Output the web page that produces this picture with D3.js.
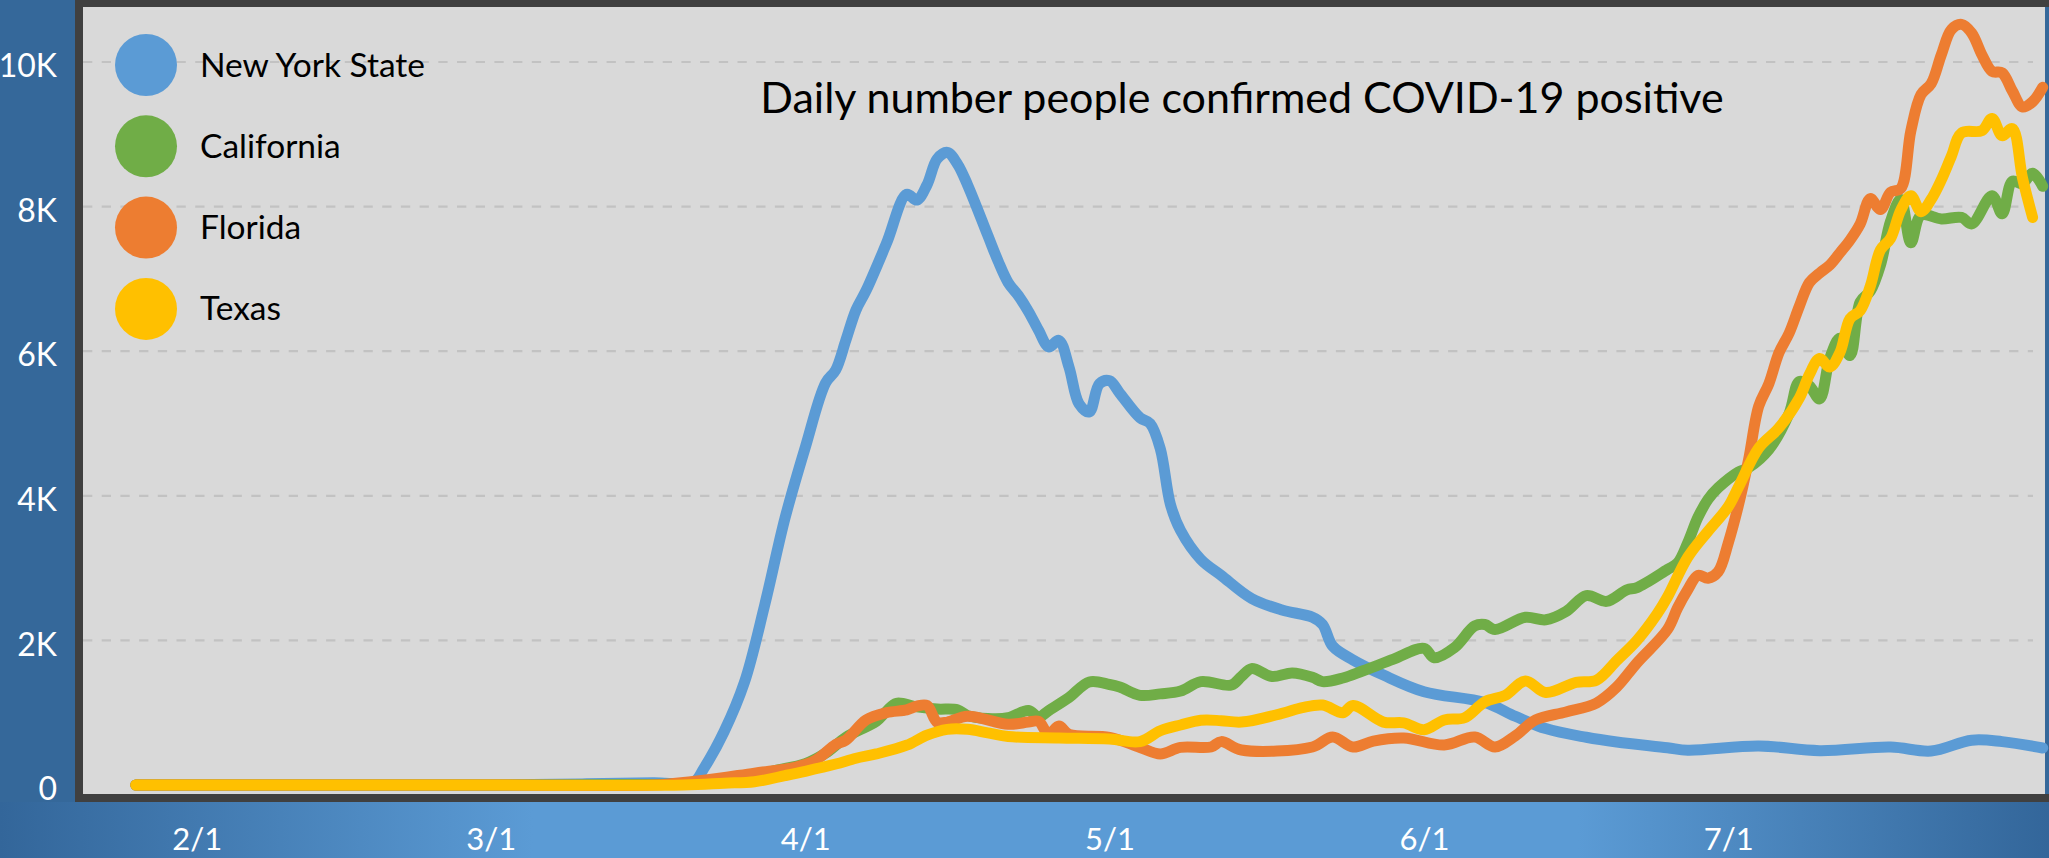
<!DOCTYPE html>
<html>
<head>
<meta charset="utf-8">
<script src="https://cdn.jsdelivr.net/npm/d3@7"></script>
<style>
  html, body { margin: 0; padding: 0; background: #35689A; }
  svg { display: block; }
  text { font-family: Lato, "Open Sans", sans-serif; }
</style>
</head>
<body>
<svg id="chart" width="2049" height="858"></svg>
<script>
// ---------------- DATA ----------------
const chartTitle = "Daily number people confirmed COVID-19 positive";
const seriesNames = ["New York State", "California", "Florida", "Texas"];
const seriesColors = ["#5B9BD5", "#70AD47", "#ED7D31", "#FFC000"];
const monthTicks = ["2/1", "3/1", "4/1", "5/1", "6/1", "7/1"];
const yTicks = [0, 2000, 4000, 6000, 8000, 10000];

const nyDates = ["1/26","2/15","3/1","3/10","3/17","3/21","3/22","3/24","3/26","3/28","3/30","4/1","4/3","4/4","4/5","4/6","4/7","4/9","4/11","4/12","4/13","4/14","4/15","4/16","4/17","4/19","4/20","4/21","4/22","4/23","4/24","4/25","4/26","4/27","4/28","4/29","4/30","5/1","5/2","5/4","5/5","5/6","5/7","5/8","5/10","5/12","5/15","5/18","5/21","5/22","5/23","5/25","5/28","6/1","6/7","6/10","6/13","6/17","6/20","6/25","6/27","7/4","7/10","7/17","7/21","7/25","7/28","8/1"];
const nyCases = [0,0,0,15,30,40,230,740,1420,2490,3690,4670,5560,5740,6150,6570,6840,7490,8170,8090,8300,8660,8750,8590,8300,7600,7250,6950,6770,6550,6290,6060,6150,5780,5270,5160,5550,5590,5420,5080,5000,4650,3880,3520,3120,2900,2580,2420,2320,2220,1920,1730,1520,1290,1140,950,780,660,595,515,480,540,475,525,470,620,600,512];

const caDates = ["1/26","3/1","3/12","3/19","3/23","3/26","3/29","4/1","4/3","4/5","4/7","4/8","4/9","4/10","4/12","4/14","4/16","4/17","4/19","4/21","4/23","4/24","4/25","4/27","4/29","5/1","5/2","5/4","5/6","5/8","5/10","5/13","5/14","5/15","5/17","5/19","5/21","5/22","5/24","5/26","5/29","6/1","6/2","6/4","6/6","6/7","6/8","6/11","6/13","6/15","6/17","6/19","6/21","6/22","6/25","6/26","6/27","6/28","6/29","6/30","7/2","7/3","7/5","7/7","7/8","7/9","7/10","7/11","7/12","7/13","7/14","7/15","7/16","7/17","7/18","7/19","7/20","7/22","7/24","7/25","7/27","7/28","7/29","7/30","7/31","8/1"];
const caCases = [0,0,5,15,55,105,200,295,440,660,805,880,1020,1130,1080,1050,1040,960,920,930,1030,940,1030,1210,1425,1390,1355,1240,1260,1300,1430,1383,1500,1610,1500,1550,1490,1430,1480,1580,1740,1890,1760,1900,2200,2220,2150,2320,2285,2400,2620,2540,2700,2730,2980,3070,3350,3700,3950,4110,4330,4390,4640,5140,5580,5520,5340,5900,6180,5940,6680,6830,7190,7800,8100,7500,7880,7830,7850,7760,8150,7900,8350,8320,8460,8280];

const flDates = ["1/26","3/1","3/17","3/19","3/22","3/27","3/31","4/2","4/4","4/5","4/7","4/9","4/11","4/12","4/13","4/14","4/15","4/17","4/21","4/23","4/24","4/25","4/26","4/27","5/1","5/4","5/6","5/8","5/11","5/12","5/14","5/21","5/23","5/25","5/27","5/30","6/3","6/6","6/8","6/10","6/12","6/15","6/18","6/20","6/22","6/25","6/26","6/27","6/28","6/29","6/30","7/1","7/2","7/3","7/4","7/5","7/6","7/7","7/8","7/9","7/10","7/11","7/12","7/13","7/14","7/15","7/16","7/17","7/18","7/19","7/20","7/21","7/22","7/23","7/24","7/25","7/26","7/27","7/28","7/29","7/30","7/31","8/1"];
const flCases = [0,0,0,20,65,165,245,340,560,620,900,1000,1040,1090,1100,870,870,950,840,870,880,700,815,700,660,520,430,520,526,600,484,526,664,526,608,650,553,664,526,680,900,1010,1134,1355,1690,2150,2450,2700,2900,2860,2950,3350,3870,4500,5240,5550,5980,6250,6620,6950,7080,7190,7360,7537,7760,8110,7960,8200,8250,9050,9550,9700,10100,10450,10520,10400,10100,9870,9850,9600,9380,9450,9650];

const txDates = ["1/26","3/1","3/20","3/24","3/27","3/30","4/1","4/4","4/6","4/8","4/11","4/13","4/15","4/17","4/19","4/21","4/26","5/1","5/4","5/6","5/8","5/10","5/12","5/14","5/18","5/20","5/22","5/24","5/25","5/28","5/30","6/1","6/3","6/5","6/7","6/9","6/11","6/13","6/16","6/18","6/20","6/22","6/24","6/25","6/27","6/29","7/1","7/2","7/4","7/6","7/8","7/9","7/10","7/11","7/12","7/13","7/14","7/15","7/16","7/17","7/18","7/19","7/20","7/21","7/22","7/23","7/24","7/26","7/27","7/28","7/29","7/30","7/31"];
const txCases = [0,0,0,25,45,130,190,290,370,430,550,690,770,770,720,670,650,636,600,750,830,895,890,870,990,1070,1106,1000,1100,870,860,765,900,930,1150,1240,1440,1280,1420,1450,1720,2000,2370,2600,3150,3510,3850,4120,4660,4940,5350,5680,5900,5780,5980,6450,6560,6900,7400,7560,7950,8150,7930,8100,8370,8700,9020,9050,9220,8980,9080,8400,7850];

// ---------------- CHART ----------------
const W = 2049, H = 858;
const svg = d3.select("#chart");
const parseMD = s => { const [m, d] = s.split("/").map(Number); return new Date(Date.UTC(2020, m - 1, d)); };

const x = d3.scaleUtc()
  .domain([parseMD("2/1"), parseMD("7/1")])
  .range([196.7, 1728.3]);
const y = d3.scaleLinear().domain([0, 10000]).range([785, 62]);

const defs = svg.append("defs");
const grad = defs.append("linearGradient").attr("id", "bottomGrad")
  .attr("x1", "0%").attr("x2", "100%").attr("y1", "0%").attr("y2", "0%");
[[0, "#33669A"], [0.26, "#5B9BD5"], [0.77, "#5B9BD5"], [1, "#33669A"]]
  .forEach(([o, c]) => grad.append("stop").attr("offset", o).attr("stop-color", c));

// backgrounds
svg.append("rect").attr("x", 0).attr("y", 0).attr("width", W).attr("height", H).attr("fill", "#35689A");
svg.append("rect").attr("x", 0).attr("y", 802).attr("width", W).attr("height", H - 802).attr("fill", "url(#bottomGrad)");

// plot area
const plotL = 83, plotT = 7, plotR = 2045, plotB = 794;
svg.append("rect").attr("x", plotL).attr("y", plotT)
  .attr("width", plotR - plotL).attr("height", plotB - plotT).attr("fill", "#D9D9D9");

// gridlines
svg.append("g").selectAll("line").data(yTicks.filter(v => v > 0)).join("line")
  .attr("x1", plotL).attr("x2", 2033)
  .attr("y1", d => y(d)).attr("y2", d => y(d))
  .attr("stroke", "#C2C2C2").attr("stroke-width", 2.2)
  .attr("stroke-dasharray", "9.3 9.4");

// title
svg.append("text").attr("x", 1242).attr("y", 113).attr("text-anchor", "middle")
  .attr("font-size", 43).attr("fill", "#000").text(chartTitle);

// series lines
const series = [
  { name: seriesNames[0], color: seriesColors[0], dates: nyDates, values: nyCases },
  { name: seriesNames[1], color: seriesColors[1], dates: caDates, values: caCases },
  { name: seriesNames[2], color: seriesColors[2], dates: flDates, values: flCases },
  { name: seriesNames[3], color: seriesColors[3], dates: txDates, values: txCases }
].map(s => ({ ...s, points: s.dates.map((d, i) => ({ date: parseMD(d), v: s.values[i] })) }));

const line = d3.line()
  .x(d => x(d.date)).y(d => y(d.v))
  .curve(d3.curveCatmullRom.alpha(0.5));

svg.append("g").selectAll("path").data(series).join("path")
  .attr("d", s => line(s.points))
  .attr("fill", "none").attr("stroke", s => s.color)
  .attr("stroke-width", 11).attr("stroke-linecap", "round").attr("stroke-linejoin", "round");

// frame
svg.append("rect").attr("x", 79).attr("y", 3).attr("width", 1974).attr("height", 795)
  .attr("fill", "none").attr("stroke", "#404040").attr("stroke-width", 8);

// legend
const legend = svg.append("g");
series.forEach((s, i) => {
  const cy = 65 + i * 81.3;
  legend.append("circle").attr("cx", 146).attr("cy", cy).attr("r", 31).attr("fill", s.color);
  legend.append("text").attr("x", 200).attr("y", cy + 11.5).attr("font-size", 33.5)
    .attr("fill", "#000").text(s.name);
});

// y axis
const yAxis = svg.append("g").attr("transform", "translate(57,0)")
  .call(d3.axisLeft(y).tickValues(yTicks).tickSize(0).tickPadding(0)
    .tickFormat(d => d === 0 ? "0" : (d / 1000) + "K"));
yAxis.select(".domain").remove();
yAxis.selectAll("text").attr("fill", "#fff").attr("font-size", 32)
  .attr("font-family", "Lato, 'Open Sans', sans-serif").attr("dy", "0.46em");

// x axis
const xAxis = svg.append("g").attr("transform", "translate(0,850)")
  .call(d3.axisBottom(x).tickValues(monthTicks.map(parseMD)).tickSize(0)
    .tickFormat(d3.utcFormat("%-m/%-d")));
xAxis.select(".domain").remove();
xAxis.selectAll("text").attr("fill", "#fff").attr("font-size", 31)
  .attr("font-family", "Lato, 'Open Sans', sans-serif").attr("y", 0).attr("dy", "0");
</script>
</body>
</html>
